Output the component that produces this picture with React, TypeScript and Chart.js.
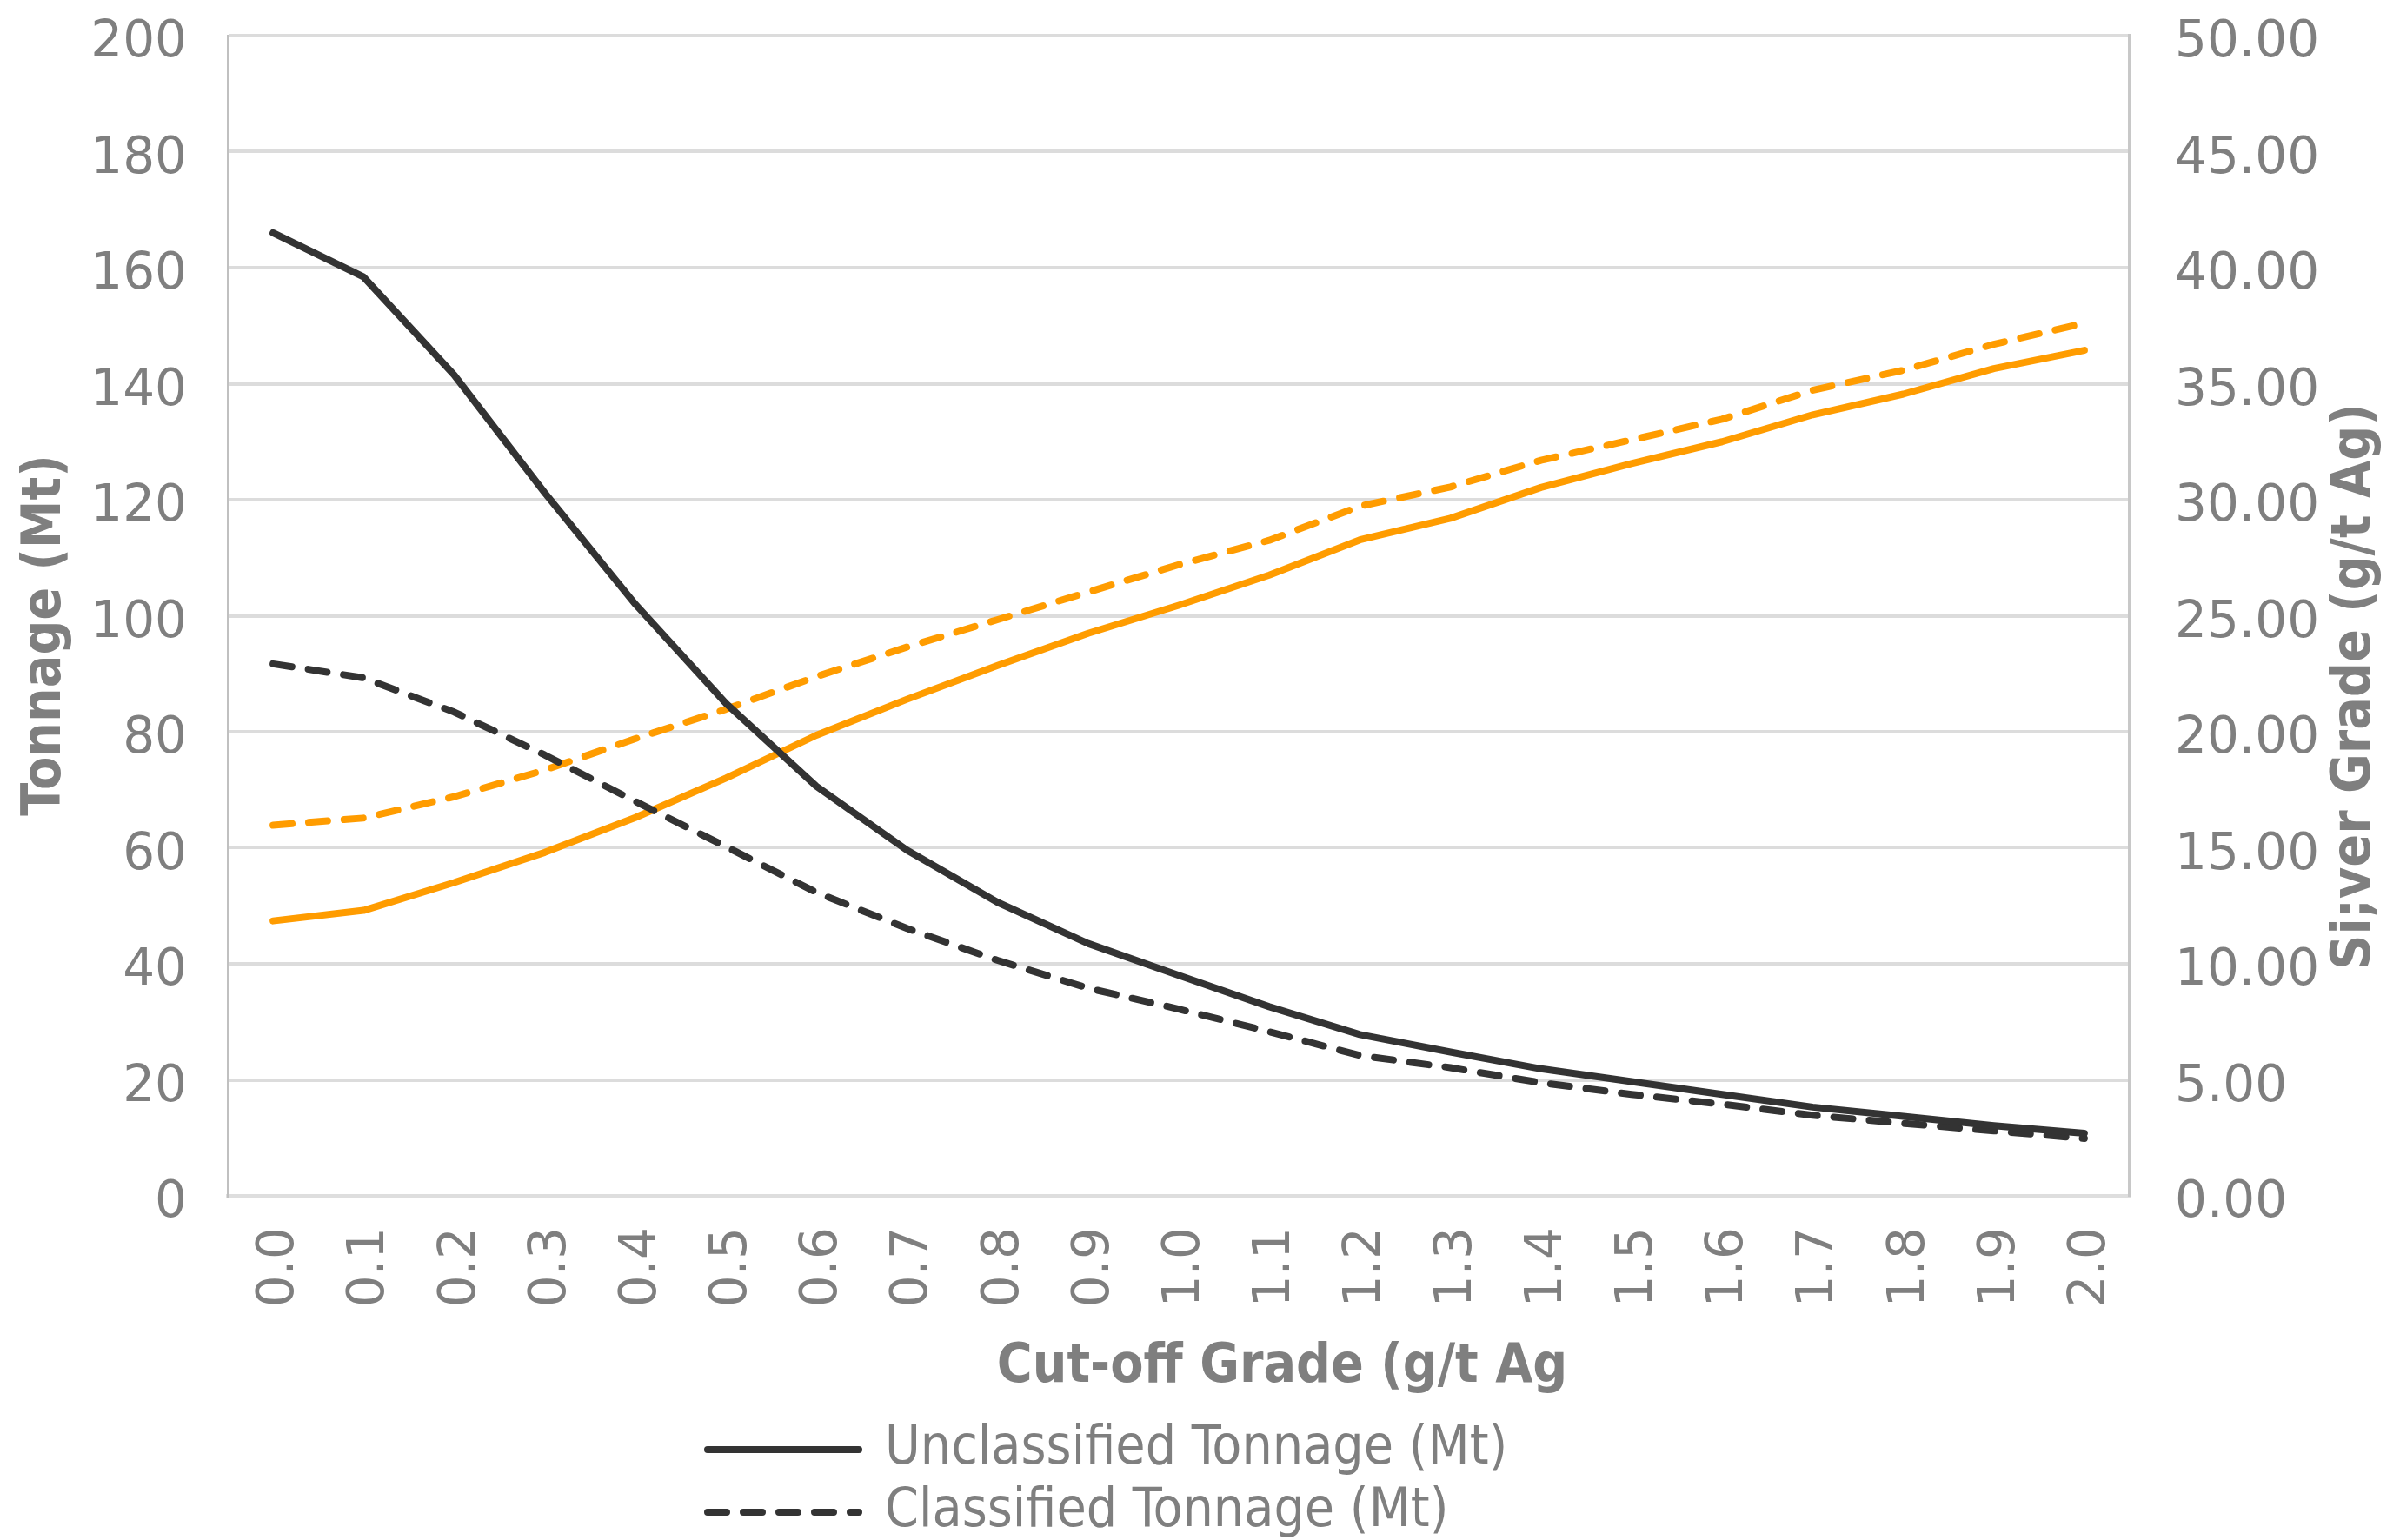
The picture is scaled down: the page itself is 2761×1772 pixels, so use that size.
import React, { useEffect, useRef } from "react";
import { Chart, registerables } from "chart.js";

Chart.register(...registerables);

const categories = ["0.0","0.1","0.2","0.3","0.4","0.5","0.6","0.7","0.8","0.9","1.0","1.1","1.2","1.3","1.4","1.5","1.6","1.7","1.8","1.9","2.0"];
const unclassifiedTonnage = [166.0, 158.4, 141.5, 121.2, 102.0, 84.9, 70.6, 59.6, 50.6, 43.5, 38.0, 32.6, 27.8, 24.8, 21.9, 19.7, 17.5, 15.3, 13.7, 12.1, 10.8];
const classifiedTonnage = [91.7, 89.3, 83.4, 76.0, 68.0, 60.2, 52.3, 46.1, 40.6, 35.8, 32.2, 28.3, 24.2, 22.1, 19.5, 17.5, 15.8, 13.9, 12.5, 11.2, 9.9];
const unclassifiedGrade = [11.85, 12.3, 13.5, 14.8, 16.3, 18.0, 19.85, 21.4, 22.86, 24.24, 25.45, 26.75, 28.27, 29.2, 30.53, 31.56, 32.5, 33.66, 34.55, 35.65, 36.44];
const classifiedGrade = [15.97, 16.28, 17.2, 18.35, 19.7, 20.97, 22.38, 23.65, 24.83, 26.02, 27.2, 28.25, 29.72, 30.55, 31.7, 32.58, 33.47, 34.72, 35.58, 36.7, 37.61];

const seriesLabels = ["Unclassified Tonnage (Mt)", "Classified Tonnage (Mt)", "Unclassified Grade (g/t Ag)", "Classified Grade (g/t Ag)"];
const xTitle = "Cut-off Grade (g/t Ag";
const yLeftTitle = "Tonnage (Mt)";
const yRightTitle = "Si;ver Grade (g/t Ag)";

const W = 2761;
const H = 1772;
const COND = "'DejaVu Sans Condensed', 'DejaVu Sans', sans-serif";
const TICKFAMILY = "'DejaVu Sans', sans-serif";
const TEXT = "#7f7f7f";
const DARK = "#333333";
const ORANGE = "#ff9c00";
const DASH = [22, 19];
const LW = 8;

const extrasPlugin = {
  id: "extras",
  afterDraw(chart: any) {
    const ctx = chart.ctx as CanvasRenderingContext2D;
    ctx.save();
    ctx.fillStyle = TEXT;
    ctx.textAlign = "center";
    ctx.textBaseline = "middle";
    ctx.font = `bold 62px ${COND}`;
    ctx.fillText(xTitle, 1475, 1574);
    ctx.save();
    ctx.translate(53, 731);
    ctx.rotate(-Math.PI / 2);
    ctx.fillText(yLeftTitle, 0, 0);
    ctx.restore();
    ctx.save();
    ctx.translate(2710, 790);
    ctx.rotate(-Math.PI / 2);
    ctx.fillText(yRightTitle, 0, 0);
    ctx.restore();

    const rows = [
      { label: seriesLabels[0], dash: [] as number[], y: 1668 },
      { label: seriesLabels[1], dash: DASH, y: 1740 },
    ];
    ctx.font = `62px ${COND}`;
    ctx.textAlign = "left";
    for (const r of rows) {
      ctx.beginPath();
      ctx.strokeStyle = DARK;
      ctx.lineWidth = LW;
      ctx.lineCap = "round";
      ctx.setLineDash(r.dash);
      ctx.moveTo(814, r.y);
      ctx.lineTo(988, r.y);
      ctx.stroke();
      ctx.setLineDash([]);
      ctx.fillText(r.label, 1018, r.y);
    }
    ctx.restore();
  },
};

const zeroPad = (s: any) => { s.paddingTop = 0; s.paddingBottom = 0; };

export default function App() {
  const ref = useRef<HTMLCanvasElement | null>(null);
  useEffect(() => {
    document.body.style.margin = "0";
    const canvas = ref.current!;
    const tickFont = { family: TICKFAMILY, size: 58 };
    const common = { pointRadius: 0, borderWidth: LW, borderCapStyle: "round", borderJoinStyle: "round", tension: 0 };
    const chart = new Chart(canvas, {
      type: "line",
      data: {
        labels: categories,
        datasets: [
          { ...common, label: seriesLabels[0], data: unclassifiedTonnage, yAxisID: "y", borderColor: DARK },
          { ...common, label: seriesLabels[1], data: classifiedTonnage, yAxisID: "y", borderColor: DARK, borderDash: DASH },
          { ...common, label: seriesLabels[2], data: unclassifiedGrade, yAxisID: "y1", borderColor: ORANGE },
          { ...common, label: seriesLabels[3], data: classifiedGrade, yAxisID: "y1", borderColor: ORANGE, borderDash: DASH },
        ],
      } as any,
      options: {
        animation: false,
        responsive: false,
        maintainAspectRatio: false,
        devicePixelRatio: 1,
        layout: { padding: { top: 41, bottom: 0, left: 0, right: 0 } },
        plugins: { legend: { display: false }, tooltip: { enabled: false } },
        scales: {
          x: {
            type: "category",
            offset: true,
            grid: { display: false, drawTicks: false },
            border: { color: "#dedede", width: 5 },
            ticks: { font: tickFont, color: TEXT, minRotation: 90, maxRotation: 90, autoSkip: false, padding: 36, labelOffset: 8 },
            afterFit: (s: any) => { s.height = 396; },
          },
          y: {
            position: "left",
            min: 0,
            max: 200,
            ticks: { stepSize: 20, font: tickFont, color: TEXT, padding: 47, labelOffset: 9 },
            grid: { color: "#dcdcdc", lineWidth: 4, drawTicks: false },
            border: { color: "#c0c0c0", width: 3 },
            afterFit: (s: any) => { s.width = 262; zeroPad(s); },
          },
          y1: {
            position: "right",
            min: 0,
            max: 50,
            ticks: { stepSize: 5, font: tickFont, color: TEXT, padding: 52, labelOffset: 9, callback: (v: any) => Number(v).toFixed(2) },
            grid: { drawOnChartArea: false, drawTicks: false },
            border: { color: "#c8c8c8", width: 4 },
            afterFit: (s: any) => { s.width = 311; zeroPad(s); },
          },
        },
      } as any,
      plugins: [extrasPlugin],
    });
    return () => chart.destroy();
  }, []);
  return <canvas ref={ref} width={W} height={H} style={{ display: "block", width: W, height: H }} />;
}
